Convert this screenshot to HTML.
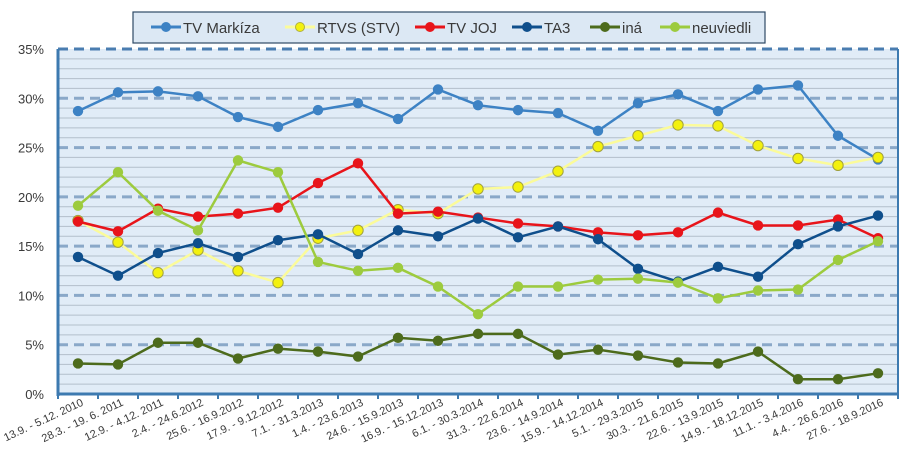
<!DOCTYPE html>
<html><head><meta charset="utf-8"><style>
html,body{margin:0;padding:0;background:#fff;width:918px;height:463px;overflow:hidden}
svg text{font-family:"Liberation Sans",sans-serif}
</style></head><body>
<svg id="c" width="918" height="463" xmlns="http://www.w3.org/2000/svg">
<rect x="58" y="49" width="840" height="345" fill="#e1ecf7"/>
<g id="grid"></g>
<rect x="133" y="12" width="632" height="31" fill="#dce8f4" stroke="#2e4a66" stroke-width="1.2"/>
<g font-size="15" fill="#3a3a3a">
<line x1="151" y1="27" x2="181" y2="27" stroke="#3d82c4" stroke-width="3"/><circle cx="166" cy="27" r="5" fill="#3d82c4"/><text x="183" y="33">TV Markíza</text>
<line x1="285" y1="27" x2="315" y2="27" stroke="#fbfb9a" stroke-width="3"/><circle cx="300" cy="27" r="4.5" fill="#f3f10e" stroke="#b0b040"/><text x="317" y="33">RTVS (STV)</text>
<line x1="415" y1="27" x2="445" y2="27" stroke="#e8141a" stroke-width="3"/><circle cx="430" cy="27" r="5" fill="#e8141a"/><text x="447" y="33">TV JOJ</text>
<line x1="512" y1="27" x2="542" y2="27" stroke="#0f4f8c" stroke-width="3"/><circle cx="527" cy="27" r="5" fill="#0f4f8c"/><text x="544" y="33">TA3</text>
<line x1="590" y1="27" x2="620" y2="27" stroke="#4d6b1c" stroke-width="3"/><circle cx="605" cy="27" r="5" fill="#4d6b1c"/><text x="622" y="33">iná</text>
<line x1="660" y1="27" x2="690" y2="27" stroke="#9dcb3e" stroke-width="3"/><circle cx="675" cy="27" r="5" fill="#9dcb3e"/><text x="692" y="33">neuviedli</text>
</g>
<g id="series"></g>
<g id="xl" font-size="11" fill="#3a3a3a"></g>
<g id="yl" font-size="13" fill="#3a3a3a" text-anchor="end"></g>
</svg>
<script>
const NS="http://www.w3.org/2000/svg";
function el(t,a,p){const e=document.createElementNS(NS,t);for(const k in a)e.setAttribute(k,a[k]);p.appendChild(e);return e;}
const X0=58,X1=898,Y0=394,Y1=49;
const yv=v=>Y0-(v/35)*(Y0-Y1);
const g=document.getElementById('grid');
for(let i=1;i<35;i++){if(i%5)el('line',{x1:X0,x2:X1,y1:yv(i),y2:yv(i),stroke:'#b3bfcb','stroke-width':1},g);}
for(let i=5;i<=35;i+=5){el('line',{x1:X0,x2:X1,y1:yv(i),y2:yv(i),stroke:i==35?'#4a7db0':'#8aa8c8','stroke-width':3,'stroke-dasharray':'10,6'},g);}
el('line',{x1:X0,x2:X1,y1:Y0,y2:Y0,stroke:'#3d7ab0','stroke-width':3},g);
el('line',{x1:X0,x2:X0,y1:Y1,y2:Y0+2,stroke:'#3d7ab0','stroke-width':3},g);
el('line',{x1:X1,x2:X1,y1:Y1,y2:Y0,stroke:'#3d7ab0','stroke-width':2},g);
for(let i=0;i<=21;i++)el('line',{x1:X0+i*40,x2:X0+i*40,y1:Y0,y2:Y0+5,stroke:'#3d7ab0','stroke-width':2},g);
const yl=document.getElementById('yl');
for(let i=0;i<=35;i+=5){const t=el('text',{x:44,y:yv(i)+5},yl);t.textContent=i+'%';}
const labels=["13.9. - 5.12. 2010","28.3. - 19. 6. 2011","12.9. - 4.12. 2011","2.4. - 24.6.2012","25.6. - 16.9.2012","17.9. - 9.12.2012","7.1. - 31.3.2013","1.4. - 23.6.2013","24.6. - 15.9.2013","16.9. - 15.12.2013","6.1. - 30.3.2014","31.3. - 22.6.2014","23.6. - 14.9.2014","15.9. - 14.12.2014","5.1. - 29.3.2015","30.3. - 21.6.2015","22.6. - 13.9.2015","14.9. - 18.12.2015","11.1. - 3.4.2016","4.4. - 26.6.2016","27.6. - 18.9.2016"];
const xl=document.getElementById('xl');
labels.forEach((l,i)=>{const x=X0+20+i*40+6;const t=el('text',{x:x,y:405,'text-anchor':'end',transform:`rotate(-25 ${x} 405)`},xl);t.textContent=l;});
const S=[
["#3d82c4","#3d82c4",[28.7,30.6,30.7,30.2,28.1,27.1,28.8,29.5,27.9,30.9,29.3,28.8,28.5,26.7,29.5,30.4,28.7,30.9,31.3,26.2,23.8]],
["#fbfb9a","#f3f10e",[17.6,15.4,12.3,14.6,12.5,11.3,15.8,16.6,18.7,18.3,20.8,21.0,22.6,25.1,26.2,27.3,27.2,25.2,23.9,23.2,24.0]],
["#e8141a","#e8141a",[17.5,16.5,18.8,18.0,18.3,18.9,21.4,23.4,18.3,18.5,17.9,17.3,17.0,16.4,16.1,16.4,18.4,17.1,17.1,17.7,15.8]],
["#0f4f8c","#0f4f8c",[13.9,12.0,14.3,15.3,13.9,15.6,16.2,14.2,16.6,16.0,17.8,15.9,17.0,15.7,12.7,11.4,12.9,11.9,15.2,17.0,18.1]],
["#4d6b1c","#4d6b1c",[3.1,3.0,5.2,5.2,3.6,4.6,4.3,3.8,5.7,5.4,6.1,6.1,4.0,4.5,3.9,3.2,3.1,4.3,1.5,1.5,2.1]],
["#9dcb3e","#9dcb3e",[19.1,22.5,18.6,16.6,23.7,22.5,13.4,12.5,12.8,10.9,8.1,10.9,10.9,11.6,11.7,11.3,9.7,10.5,10.6,13.6,15.5]]];
const sg=document.getElementById('series');
S.forEach((s,si)=>{const pts=s[2].map((v,i)=>[X0+20+i*40,yv(v)]);
el('polyline',{points:pts.map(p=>p.join(',')).join(' '),fill:'none',stroke:s[0],'stroke-width':2.5},sg);
pts.forEach(p=>el('circle',{cx:p[0],cy:p[1],r:5.2,fill:s[1],stroke:si==1?'#a0a040':'none','stroke-width':1},sg));});
</script>
</body></html>
